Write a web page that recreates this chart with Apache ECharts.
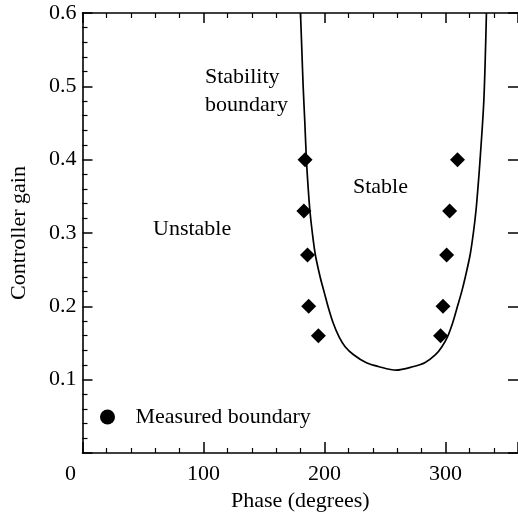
<!DOCTYPE html>
<html>
<head>
<meta charset="utf-8">
<script src="https://cdn.jsdelivr.net/npm/echarts@6/dist/echarts.min.js"></script>
<style>
html,body{margin:0;padding:0;background:#fff;}
#chart{width:518px;height:517px;}
</style>
</head>
<body>
<div id="chart"></div>
<script>
// Stability boundary curve (phase in degrees, controller gain)
var boundaryPhase = [180.2, 181.3, 182.4, 183.8, 185.1, 186.4, 188.0, 190.0, 192.5, 196.6, 200.0, 203.1, 207.3, 212.2, 217.1, 224.1, 234.7, 244.5, 259.2, 273.9, 282.9, 291.8, 297.1, 301.6, 306.1, 309.8, 313.3, 316.3, 320.4, 323.1, 325.3, 327.1, 328.7, 331.8, 333.9];
var boundaryGain  = [0.600, 0.550, 0.500, 0.450, 0.400, 0.365, 0.330, 0.300, 0.270, 0.239, 0.218, 0.199, 0.177, 0.158, 0.145, 0.134, 0.123, 0.118, 0.113, 0.118, 0.123, 0.134, 0.145, 0.158, 0.178, 0.199, 0.219, 0.239, 0.270, 0.300, 0.331, 0.366, 0.401, 0.482, 0.600];

// Measured boundary points
var measuredPhase = [184, 183, 186, 187, 195, 310, 303.5, 301, 298, 296];
var measuredGain  = [0.40, 0.33, 0.27, 0.20, 0.16, 0.40, 0.33, 0.27, 0.20, 0.16];

// Axis ticks
var xTicks = [0, 100, 200, 300];
var yTicks = [0.1, 0.2, 0.3, 0.4, 0.5, 0.6];

var FONT = "'Liberation Serif', 'DejaVu Serif', serif";

var curve = boundaryPhase.map(function (p, i) { return [p, boundaryGain[i]]; });
var points = measuredPhase.map(function (p, i) { return [p, measuredGain[i]]; });

var chart = echarts.init(document.getElementById('chart'), null, {renderer: 'canvas'});

var axisLineStyle = {color: '#000', width: 1.6};

chart.setOption({
  backgroundColor: '#fff',
  animation: false,
  grid: {left: 82.5, top: 13, right: -5.5, bottom: 60, containLabel: false},
  legend: {
    data: [{name: 'Measured boundary', icon: 'circle', itemStyle: {color: '#000', opacity: 1}}],
    left: 95, top: 401,
    itemWidth: 46, itemHeight: 15,
    textStyle: {fontFamily: FONT, fontSize: 22, color: '#000', lineHeight: 22},
    selectedMode: false
  },
  xAxis: [{
    type: 'value', min: 0, max: 360, interval: 100, position: 'bottom',
    name: 'Phase (degrees)', nameLocation: 'middle', nameGap: 37,
    nameTextStyle: {fontFamily: FONT, fontSize: 22, color: '#000'},
    axisLine: {show: true, onZero: false, lineStyle: axisLineStyle},
    axisTick: {show: true, inside: true, length: 11, lineStyle: {color: '#000', width: 1.5}},
    minorTick: {show: true, splitNumber: 5, length: 5, lineStyle: {color: '#000', width: 1.2}},
    splitLine: {show: false}, minorSplitLine: {show: false},
    axisLabel: {
      fontFamily: FONT, fontSize: 22, color: '#000', margin: 10,
      showMaxLabel: false,
      formatter: function (v) {
        if (xTicks.indexOf(v) < 0) return '';
        if (v === 0) return '{z|0}';
        return String(v);
      },
      rich: {z: {fontFamily: FONT, fontSize: 22, color: '#000', padding: [0, 24, 0, 0]}}
    }
  }, {
    type: 'value', min: 0, max: 360, interval: 100, position: 'top',
    axisLine: {show: true, onZero: false, lineStyle: axisLineStyle},
    axisTick: {show: true, inside: true, length: 10, lineStyle: {color: '#000', width: 1.5}},
    minorTick: {show: true, splitNumber: 5, length: 5, lineStyle: {color: '#000', width: 1.2}},
    splitLine: {show: false}, minorSplitLine: {show: false}, axisLabel: {show: false}
  }],
  yAxis: [{
    type: 'value', min: 0, max: 0.6, interval: 0.1, position: 'left',
    name: 'Controller gain', nameLocation: 'middle', nameGap: 52,
    nameTextStyle: {fontFamily: FONT, fontSize: 22, color: '#000'},
    axisLine: {show: true, onZero: false, lineStyle: axisLineStyle},
    axisTick: {show: true, inside: true, length: 10, lineStyle: {color: '#000', width: 1.5}},
    minorTick: {show: true, splitNumber: 5, length: 5, lineStyle: {color: '#000', width: 1.2}},
    splitLine: {show: false}, minorSplitLine: {show: false},
    axisLabel: {
      fontFamily: FONT, fontSize: 22, color: '#000', margin: 6,
      formatter: function (v) {
        var r = Math.round(v * 10) / 10;
        return yTicks.indexOf(r) >= 0 ? r.toFixed(1) : '';
      }
    }
  }, {
    type: 'value', min: 0, max: 0.6, interval: 0.1, position: 'right',
    axisLine: {show: false, onZero: false},
    axisTick: {show: true, inside: true, length: 10, lineStyle: {color: '#000', width: 1.5}},
    splitLine: {show: false}, axisLabel: {show: false}
  }],
  graphic: [
    {type: 'text', x: 205, y: 77, style: {text: 'Stability', font: '22px ' + FONT, fill: '#000', textAlign: 'left', textVerticalAlign: 'middle'}},
    {type: 'text', x: 205, y: 105, style: {text: 'boundary', font: '22px ' + FONT, fill: '#000', textAlign: 'left', textVerticalAlign: 'middle'}},
    {type: 'text', x: 153, y: 229, style: {text: 'Unstable', font: '22px ' + FONT, fill: '#000', textAlign: 'left', textVerticalAlign: 'middle'}},
    {type: 'text', x: 353, y: 187, style: {text: 'Stable', font: '22px ' + FONT, fill: '#000', textAlign: 'left', textVerticalAlign: 'middle'}}
  ],
  series: [{
    name: 'Stability boundary', type: 'line', data: curve,
    smooth: 0.3, showSymbol: false, symbol: 'none',
    lineStyle: {color: '#000', width: 1.7}, z: 3
  }, {
    name: 'Measured boundary', type: 'scatter', data: points,
    symbol: 'diamond', symbolSize: 15,
    itemStyle: {color: '#000', opacity: 1}, z: 4
  }]
});
</script>
</body>
</html>
